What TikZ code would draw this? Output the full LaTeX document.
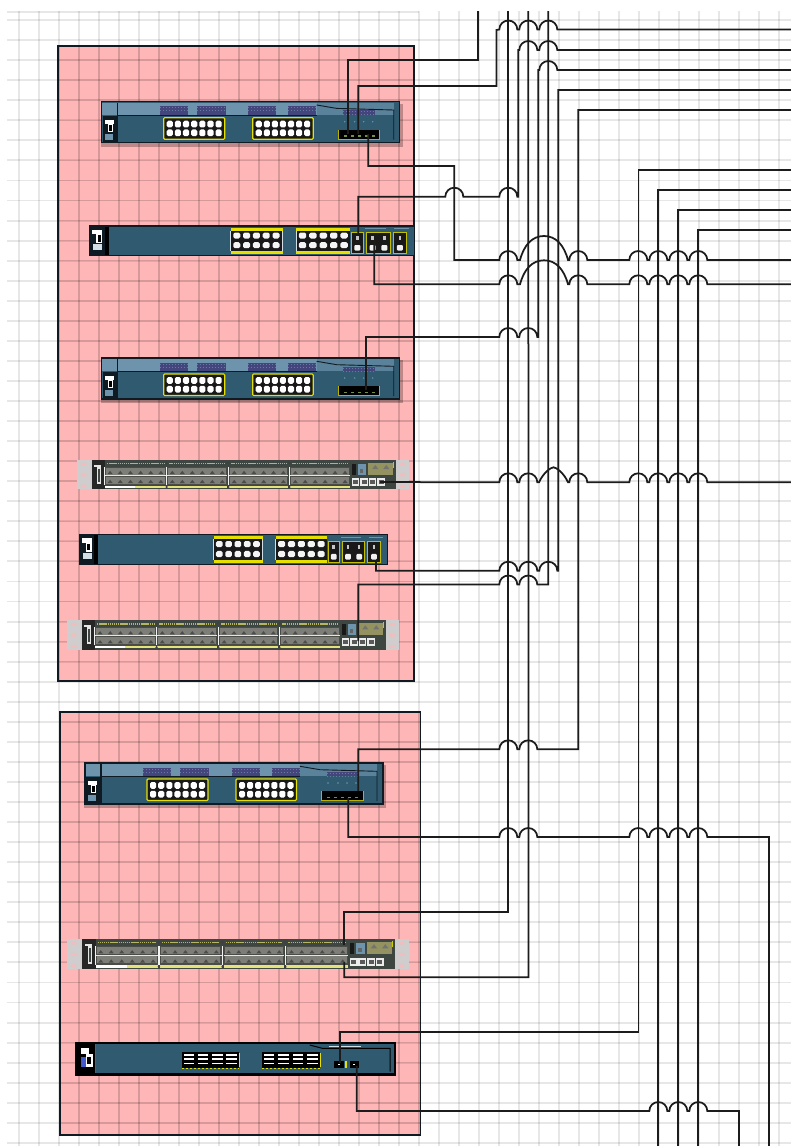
\documentclass[tikz,border=0pt]{standalone}
\usetikzlibrary{calc}
\definecolor{pinkfill}{HTML}{FFB6B6}
\definecolor{teal1}{HTML}{2F5A70}
\definecolor{band}{HTML}{6E93AD}
\definecolor{frame}{HTML}{101A22}
\definecolor{hatch}{HTML}{45457E}
\definecolor{yel}{HTML}{E6E000}
\definecolor{earg}{HTML}{CFCDCD}
\definecolor{swbody}{HTML}{3D4641}
\definecolor{portg}{HTML}{7E7E78}
\definecolor{stripe}{HTML}{E4E27C}
\definecolor{wirec}{HTML}{1C1C1C}
\tikzset{
  gridline/.style={black,opacity=.095,line width=1.9pt},
  zonegrid/.style={black,opacity=.07,line width=1.6pt},
  zone/.style={draw=frame,line width=1.5pt},
  wire/.style={draw=wirec,line width=1.75pt,line join=miter},
  devbox/.style={inner sep=0pt,outer sep=0pt,rectangle},
}
% a hop over a vertical wire at x=#1 on a horizontal run at y=#2
\newcommand\hop[2]{-- (#1-9,#2) .. controls (#1-9,#2-5) and (#1-5,#2-9) .. (#1,#2-9) .. controls (#1+5,#2-9) and (#1+9,#2-5) .. (#1+9,#2)}
% a wide hop from x=#1 to x=#3, height #4, at y=#2
\newcommand\widehop[4]{-- (#1,#2) .. controls (#1+4,#2-#4*.62) and (#1+12,#2-#4) .. ({(#1+#3)/2},#2-#4) .. controls (#3-12,#2-#4) and (#3-4,#2-#4*.62) .. (#3,#2)}
% yellow framed block of white ports: x,y,w,h,cols
\newcommand\portblock[5]{%
  \fill[black!90] (#1,#2) rectangle ++(#3,#4);
  \draw[yel,line width=1.1pt,rounded corners=1pt] (#1,#2) rectangle ++(#3,#4);
  \pgfmathsetmacro\cw{(#3-4)/#5}
  \pgfmathsetmacro\ch{(#4-5)/2}
  \foreach \c in {1,...,#5}{
    \fill[white,rounded corners=1.6pt] ($(#1,#2)+(\c*\cw-\cw+3,3)$) rectangle ++(\cw-2,\ch-1.5);
    \fill[white,rounded corners=1.6pt] ($(#1,#2)+(\c*\cw-\cw+3,3.5+\ch)$) rectangle ++(\cw-2,\ch-1.5);
  }}
% switch type one, with an upper band
\newcommand\swA[1]{\begin{scope}[shift={(#1)}]
  \fill[black,opacity=.25] (-1,2) rectangle (301,45);
  \fill[teal1] (0,0) rectangle (298,41);
  \fill[band] (0,1) rectangle (215,13);
  \fill[band!70!teal1] (215,1) rectangle (292,13);
  \fill[black!70!teal1] (1,14) rectangle (15,41);
  \fill[white] (3,18) rectangle (12,22);
  \fill[white] (6,22) rectangle (11,30);
  \fill[black] (7,23) rectangle (10,29);
  \fill[band] (3,32) rectangle (11,38);
  \foreach \x/\w/\yy/\hh in {58.3/28/4.5/8.5,95/29/4.5/8.5,146.7/28/4.5/8.5,186.7/28/4.5/8.5,241.7/32/8.5/4.5}{
    \fill[hatch] (\x,\yy) rectangle ++(\w,\hh);
    \draw[band!70!hatch,line width=.55pt,dash pattern=on 1pt off 2pt] (\x,\yy+1.5) -- ++(\w,0);
    \draw[band!70!hatch,line width=.55pt,dash pattern=on 1pt off 2pt] (\x,\yy+4.5) -- ++(\w,0);}
  \draw[frame,line width=1.2pt] (0,0) rectangle (298,41);
  \draw[frame,line width=1.2pt] (16,1) -- (16,41);
  \draw[frame,line width=1.2pt] (16,13.5) -- (215,13.5);
  \draw[frame,line width=.9pt] (215,3.3) -- (235,6.7) -- (292,8.3) -- (292,38);
  \portblock{62}{16}{61}{21.5}{7}
  \portblock{151}{16}{60.5}{21.5}{7}
  \foreach \x in {243,253,262,271} \fill[band] (\x,20) circle (.8);
  \fill[black] (236.7,28) rectangle (278,37.5);
  \draw[yel!80!black,line width=.8pt] (236.7,37.5) -- (278,37.5);
  \draw[yel!80!black,line width=.7pt] (236.7,28) -- (236.7,37.5) (278,28) -- (278,37.5);
  \foreach \x in {242,249,256,263,270} \fill[yel!40!teal1] (\x,33.5) rectangle ++(3,1.5);
\end{scope}}
% switch type two, plain with fibre modules
\newcommand\fibre[2]{%
  \fill[black!90] (#1,6.7) rectangle ++(#2,20.5);
  \draw[yel!85!black,line width=.7pt] (#1,6.7) rectangle ++(#2,20.5);
  }
\newcommand\fport[1]{%
  \fill[white!55!gray] (#1-1.3,10) rectangle ++(2.6,4);
  \fill[white!90!gray,rounded corners=1pt] (#1-3,19) rectangle ++(6,5.5);}
\newcommand\swB[2]{\begin{scope}[shift={(#1)},#2]
  \fill[teal1] (0,0) rectangle (325,29.3);
  \fill[black!70!teal1] (0,0) rectangle (16,29.3);
  \fill[white] (3,3.5) rectangle (13,8);
  \fill[white] (7,8) rectangle (13,17);
  \fill[black] (8.5,9) rectangle (11.5,15.5);
  \fill[white!70!band] (4,18) rectangle (13,24);
  \fill[black] (16,0) rectangle (20,29.3);
  \draw[frame,line width=1.3pt] (0,0) rectangle (325,29.3);
  \fill[yel] (142,1.6) rectangle (193.7,27.8);
  \fill[yel] (207,2) rectangle (260.7,27.8);
  \fill[black!90] (141,5) rectangle (193,25);
  \fill[black!90] (207,5) rectangle (260.7,25);
  \draw[white!70!band,line width=.9pt] (141,5) -- (141,25) (193.5,5) -- (193.5,25) (207,5) -- (207,25);
  \foreach \c in {0,...,4}{
    \fill[white!92!gray,rounded corners=1.6pt] (144+\c*9.8,6.5) rectangle ++(7,6);
    \fill[white!92!gray,rounded corners=1.6pt] (144+\c*9.8,16.2) rectangle ++(7,6);
    \fill[white!92!gray,rounded corners=1.6pt] (209.5+\c*10.4,6.5) rectangle ++(7.4,6);
    \fill[white!92!gray,rounded corners=1.6pt] (209.5+\c*10.4,16.2) rectangle ++(7.4,6);}
  \fibre{262.3}{11.7}\fibre{277.3}{23.4}\fibre{304}{13}
  \fport{268.1}\fport{283.2}\fport{295}\fport{310.5}
  \draw[band,line width=.6pt] (276,2.6) -- (297,2.6) (305,2.6) -- (320,2.6);
\end{scope}}
% switch type three, 48 ports with rack ears
\newcommand\swC[2]{\begin{scope}[shift={(#1)},#2]
  \fill[earg] (0,0) rectangle (14.3,29.3);
  \fill[earg] (318.3,0) rectangle (331.7,29.3);
  \foreach \x in {6.5,325} \foreach \y in {4,15,26}
    \fill[pinkfill!70!earg] (\x,\y) ellipse (3 and 1.6);
  \fill[swbody] (14.3,0) rectangle (318.3,29.3);
  \fill[black!85] (14.3,0) rectangle (27.7,29.3);
  \fill[white!80!gray] (17,5) rectangle (24,7);
  \fill[white!80!gray] (20,7) rectangle (24,24);
  \fill[swbody] (21,9) rectangle (23,22);
  \foreach \x/\w in {27.7/61,90/60,152/59,213/59.7}{
    \fill[portg!60!black] (\x,6.8) rectangle ++(\w,18.4);
    \fill[portg] (\x+1,8) rectangle ++(\w-2,6.8);
    \fill[portg] (\x+1,16.5) rectangle ++(\w-2,7);
    \draw[white!80!gray,line width=.8pt] (\x,15.5) -- ++(\w,0);
    \foreach \k in {0,...,5}{
      \fill[black!70] ($(\x,11)+(\k*\w/6+\w/12,0)$) ++(-2.5,3) -- ++(2.5,-3.2) -- ++(2.5,3.2) -- cycle;
      \fill[black!70] ($(\x,20)+(\k*\w/6+\w/12,0)$) ++(-2.5,3) -- ++(2.5,-3.2) -- ++(2.5,3.2) -- cycle;}
    \draw[stripe!80!black,line width=1.6pt,dash pattern=on 1.4pt off .7pt] (\x+2,3.4) -- ++(\w-4,0);
    \fill[stripe] (\x,25.6) rectangle ++(\w,2.3);
  }
  \fill[white] (27.7,25.6) rectangle (58,27.9);
  \foreach \x in {89.3,151,212}{
    \draw[white!90!gray,line width=1.6pt] (\x,7) -- (\x,25);
    \fill[black!75] (\x,3) circle (1.4);
    \fill[black!75] (\x,27) circle (1.3);}
  \draw[white!90!gray,line width=.8pt] (27.5,7) -- (27.5,25);
  \fill[black!90] (274.5,3.5) rectangle (279,15);
  \fill[band] (281,4) rectangle (289,15);
  \fill[black!60] (283,9) rectangle (286,13);
  \fill[portg!80!yel] (291,3) rectangle (316,15);
  \fill[black!55] (295,9) -- (298,5) -- (301,9) -- cycle;
  \fill[black!55] (306,9) -- (309,5) -- (312,9) -- cycle;
  \foreach \x in {274.5,283,291.5,300}{
    \fill[white!85!gray] (\x,18) rectangle ++(7.6,8);
    \fill[black!65] (\x+1.3,20) rectangle ++(5,4);}
  \draw[yel!90!black,line width=.7pt] (316,2) -- (316,8);
\end{scope}}
% switch type four, slim black frame
\newcommand\swD[1]{\begin{scope}[shift={(#1)}]
  \fill[teal1] (0,0) rectangle (319.3,31.7);
  \fill[black] (0,0) rectangle (20,31.7);
  \fill[white] (5,5.5) rectangle (13,11);
  \fill[white] (10,11) rectangle (17,24);
  \fill[black] (11.5,14) rectangle (15,21);
  \fill[band!60!blue] (5,14) rectangle (10,24);
  \draw[teal1!80!green,line width=.6pt] (19.5,1) -- (19.5,31);
  \draw[black,line width=2.2pt] (0,0) rectangle (319.3,31.7);
  \foreach \x/\w in {106/57,186/58}{
    \fill[black] (\x,9) rectangle ++(\w,16.7);
    \foreach \k in {0,...,3}{
      \fill[white] ($(\x,11.5)+(\k*\w/4+1.8,0)$) rectangle ++(\w/4-3.6,1.4);
      \fill[white] ($(\x,15.5)+(\k*\w/4+1.8,0)$) rectangle ++(\w/4-3.6,1.4);
      \fill[white] ($(\x,20)+(\k*\w/4+1.8,0)$) rectangle ++(\w/4-3.6,1.4);}
    \draw[yel,line width=1pt,dash pattern=on 2pt off 2pt] (\x,26) -- ++(\w,0);
    \draw[yel,line width=1pt] (\x+\w+1,10.5) -- ++(0,13.5);
  }
  \draw[black,line width=1pt] (234,2.3) -- (247,5.7) -- (314.3,5.7) -- (314.3,29);
  \draw[white!70!band,line width=.8pt] (253,4) -- (285,4);
  \fill[black] (258,18) rectangle ++(10,7.7);
  \fill[white] (262,21) rectangle ++(2,1.5);
  \fill[yel] (269.5,18) rectangle ++(1.3,7.7);
  \fill[black] (274,18) rectangle ++(9.7,7.7);
  \fill[white] (277.6,21) rectangle ++(2,1.5);
\end{scope}}
\begin{document}
\begin{tikzpicture}[x=1pt,y=-1pt]
\useasboundingbox (0,0) rectangle (791,1146);
\fill[white] (0,0) rectangle (791,1146);
% zones
\node[devbox,fill=pinkfill,minimum width=356pt,minimum height=635pt,anchor=north west] (zoneA) at (58,46) {};
\node[devbox,fill=pinkfill,minimum width=360.5pt,minimum height=423pt,anchor=north west] (zoneB) at (60,712) {};
% grid
\foreach \k in {0,...,38} \draw[gridline] ({18.8+20*\k},11) -- ({18.8+20*\k},1146);
\foreach \k in {1,...,57} \draw[gridline] (7,{20.05*\k}) -- (791,{20.05*\k});
\draw[gridline] (7,12) -- (419,12);
\begin{scope}
  \clip (zoneA.north west) rectangle (zoneA.south east)
        (zoneB.north west) rectangle (zoneB.south east);
  \foreach \k in {2,...,20} \draw[zonegrid] ({18.8+20*\k},11) -- ({18.8+20*\k},1146);
  \foreach \k in {1,...,57} \draw[zonegrid] (7,{20.05*\k}) -- (791,{20.05*\k});
\end{scope}
\draw[zone] (zoneA.north west) rectangle (zoneA.south east);
\draw[zone] (zoneB.north west) rectangle (zoneB.south east);
% devices
\swA{101.7,101.7}
\node[devbox,minimum width=298pt,minimum height=42pt] (dev1) at (250.7,122.5) {};
\swB{89.3,226}{}
\node[devbox,minimum width=325pt,minimum height=29pt] (dev2) at (251.8,240.6) {};
\swA{101.7,358}
\node[devbox,minimum width=298pt,minimum height=42pt] (dev3) at (250.7,379) {};
\swC{77.3,460}{}
\node[devbox,minimum width=332pt,minimum height=29pt] (dev4) at (243,474.6) {};
\swB{79.3,534.3}{xscale=.949,yscale=1.03}
\node[devbox,minimum width=308pt,minimum height=30pt] (dev5) at (233.5,549.3) {};
\swC{67.3,620.3}{}
\node[devbox,minimum width=332pt,minimum height=29pt] (dev6) at (233,635) {};
\swA{85,763}
\node[devbox,minimum width=298pt,minimum height=42pt] (dev7) at (234,784) {};
\swC{67,939}{xscale=1.03,yscale=1.03}
\node[devbox,minimum width=342pt,minimum height=30pt] (dev8) at (238,954) {};
\swD{75.7,1042.7}
\node[devbox,minimum width=319pt,minimum height=32pt] (dev9) at (235.3,1058.5) {};
% ports
\coordinate (p1a) at (348.3,134);
\coordinate (p1b) at (358.3,134);
\coordinate (p1c) at (368.3,134);
\coordinate (p2a) at (358.3,233);
\coordinate (p2b) at (374.3,240);
\coordinate (p3a) at (366,390);
\coordinate (p4a) at (380,482);
\coordinate (p5a) at (376,561);
\coordinate (p6a) at (358.3,641);
\coordinate (p7a) at (358.3,791);
\coordinate (p7b) at (348.3,798);
\coordinate (p8a) at (344.3,945);
\coordinate (p8b) at (344.3,962);
\coordinate (p9a) at (340,1063);
\coordinate (p9b) at (356.7,1066);
% ends beyond the picture
\coordinate (t1) at (478.3,11);
\coordinate (t2) at (508.3,11);
\coordinate (t3) at (528.3,11);
\coordinate (t4) at (548.3,11);
\coordinate (r1) at (791,29.5);
\coordinate (r2) at (791,50);
\coordinate (r3) at (791,70);
\coordinate (r4) at (791,90);
\coordinate (r5) at (791,110);
\coordinate (r6) at (791,170);
\coordinate (r7) at (791,190);
\coordinate (r8) at (791,210);
\coordinate (r9) at (791,230);
\coordinate (r10) at (791,260);
\coordinate (r11) at (791,284.3);
\coordinate (r12) at (791,482.3);
\coordinate (b1) at (658.3,1146);
\coordinate (b2) at (678.3,1146);
\coordinate (b3) at (698.3,1146);
\coordinate (b4) at (769,1146);
\coordinate (b5) at (739,1146);
% connectors
\draw[wire] (p1a) -- (348.3,60) -- (478.3,60) -- (t1);
\draw[wire] (p1b) -- (358.3,86) -- (496.5,86) -- (496.5,30) -- (499.3,29.5) \hop{508.3}{29.5} \hop{528.3}{29.5} \hop{548.3}{29.5} -- (r1);
\draw[wire] (p1c) -- (368.3,166) -- (454.3,166) -- (454.3,260) \hop{508.3}{260} \widehop{520}{260}{568}{24} \hop{578.3}{260} \hop{638.3}{260} \hop{658.3}{260} \hop{678.3}{260} \hop{698.3}{260} -- (r10);
\draw[wire] (p2a) -- (358.3,196.7) \hop{454.3}{196.7} \hop{508.3}{196.7} -- (518.3,196.7) -- (518.3,50) \hop{528.3}{50} \hop{548.3}{50} -- (r2);
\draw[wire] (p2b) -- (374.3,284.3) \hop{508.3}{284.3} \widehop{520}{284.3}{568}{24} \hop{578.3}{284.3} \hop{638.3}{284.3} \hop{658.3}{284.3} \hop{678.3}{284.3} \hop{698.3}{284.3} -- (r11);
\draw[wire] (p3a) -- (366,337) \hop{508.3}{337} \hop{528.3}{337} -- (538.3,337) -- (538.3,70) \hop{548.3}{70} -- (r3);
\draw[wire] (p4a) -- (482,482.3) \hop{508.3}{482.3} \hop{528.3}{482.3} \widehop{539}{482.3}{568}{15} \hop{578.3}{482.3} \hop{638.3}{482.3} \hop{658.3}{482.3} \hop{678.3}{482.3} \hop{698.3}{482.3} -- (r12);
\draw[wire] (p5a) -- (376,570.7) \hop{508.3}{570.7} \hop{528.3}{570.7} \hop{548.3}{570.7} -- (558.3,570.7) -- (558.3,90) -- (r4);
\draw[wire] (p6a) -- (358.3,584.5) \hop{508.3}{584.5} \hop{528.3}{584.5} -- (548.3,584.5) -- (t4);
\draw[wire] (p7a) -- (358.3,749.3) \hop{508.3}{749.3} \hop{528.3}{749.3} -- (578.3,749.3) -- (578.3,110) -- (r5);
\draw[wire] (p7b) -- (348.3,837) \hop{508.3}{837} \hop{528.3}{837} \hop{638.3}{837} \hop{658.3}{837} \hop{678.3}{837} \hop{698.3}{837} -- (769,837) -- (b4);
\draw[wire] (p8a) -- (344.3,911.7) -- (508.3,911.7) -- (t2);
\draw[wire] (p8b) -- (344.3,977.3) -- (528.5,977.3) -- (t3);
\draw[wire] (p9a) -- (340,1031.7) -- (638.5,1031.7) -- (638.5,170) -- (r6);
\draw[wire] (p9b) -- (356.7,1111) \hop{658.3}{1111} \hop{678.3}{1111} \hop{698.3}{1111} -- (739,1111) -- (b5);
\draw[wire] (b1) -- (658.3,190) -- (r7);
\draw[wire] (b2) -- (678.3,210) -- (r8);
\draw[wire] (b3) -- (698.3,230) -- (r9);
\end{tikzpicture}
\end{document}
